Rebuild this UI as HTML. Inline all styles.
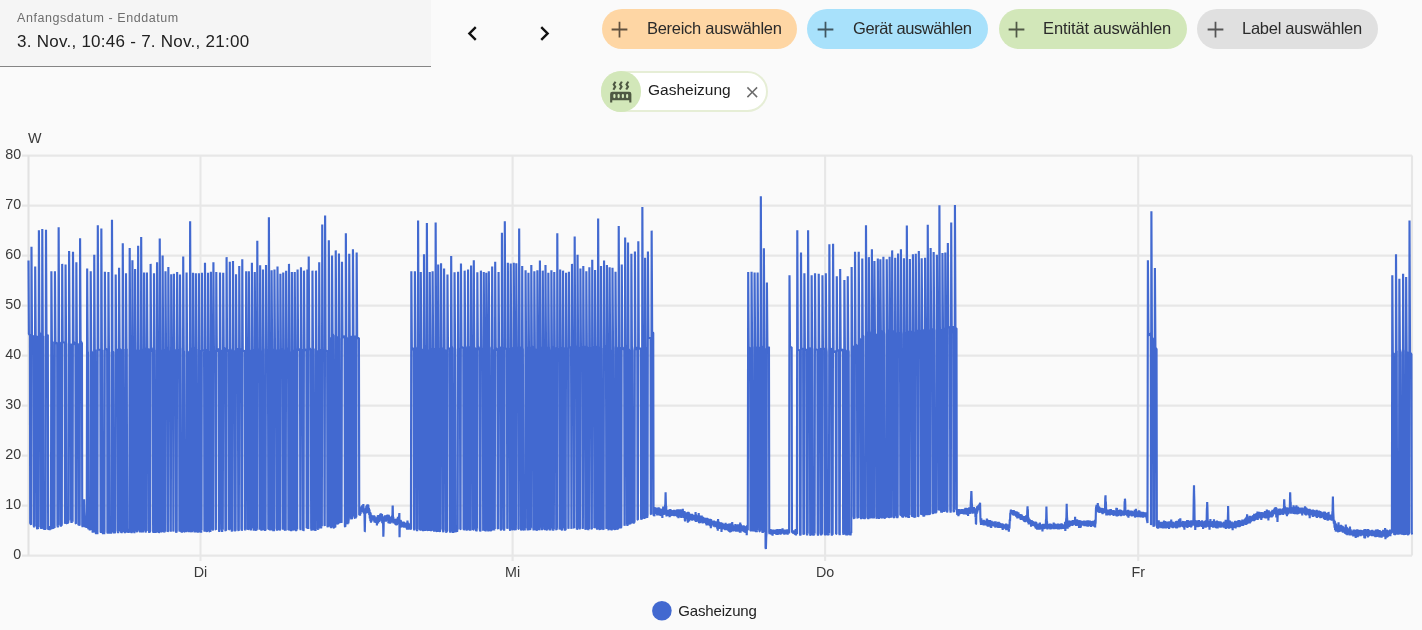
<!DOCTYPE html>
<html lang="de"><head><meta charset="utf-8"><title>Verlauf</title>
<style>
html,body{margin:0;padding:0}
body{width:1422px;height:630px;overflow:hidden;background:#fafafa;font-family:"Liberation Sans",sans-serif;color:#212121;position:relative}
.t{position:absolute;white-space:pre;line-height:1}
.ic{position:absolute;display:block}
.date{position:absolute;left:0;top:0;width:430.5px;height:66px;background:#f5f5f5;border-bottom:1px solid #858585}
.lbl{left:16.7px;top:12.3px;font-size:12.5px;letter-spacing:0.569px;color:#6e6e6e}
.val{left:16.7px;top:32.7px;font-size:17px;letter-spacing:0.262px;color:#212121}
.chip{position:absolute;top:9.4px;height:40px;border-radius:20px}
.chiptxt{top:20.1px;font-size:16.5px;color:#2a2a2a}
.sel{position:absolute;left:600.5px;top:70.6px;width:163px;height:37px;border:2px solid #e6eed6;border-radius:21px;background:#fff}
.selic{position:absolute;left:600.5px;top:71.4px;width:40.6px;height:40.6px;border-radius:50%;background:#d2e7b9}
.seltxt{left:647.7px;top:82.3px;font-size:15.5px;color:#212121}
#chart{position:absolute;left:0;top:0;will-change:transform}
.t{will-change:transform}
#chart text{font-family:"Liberation Sans",sans-serif;font-size:14.3px;fill:#3a3a3a}
</style></head>
<body>
<div class="date"></div>
<div class="t lbl">Anfangsdatum - Enddatum</div>
<div class="t val">3. Nov., 10:46 - 7. Nov., 21:00</div>
<svg class="ic" style="left:458.16px;top:18.80px;width:29px;height:29px" viewBox="0 0 24 24"><path fill="#111"  d="M15.41,16.58L10.83,12L15.41,7.41L14,6L8,12L14,18L15.41,16.58Z"/></svg>
<svg class="ic" style="left:529.74px;top:18.80px;width:29px;height:29px" viewBox="0 0 24 24"><path fill="#111"  d="M8.59,16.58L13.17,12L8.59,7.41L10,6L16,12L10,18L8.59,16.58Z"/></svg>
<div class="chip" style="left:601.6px;width:195.4px;background:#fed6a4"></div><svg class="ic" style="left:606.00px;top:15.90px;width:27px;height:27px" viewBox="0 0 24 24"><path fill="rgba(0,0,0,0.62)"  d="M19,12.78H12.78V19H11.22V12.78H5V11.22H11.22V5H12.78V11.22H19Z"/></svg><div class="t chiptxt" style="left:646.5px;letter-spacing:-0.284px">Bereich auswählen</div><div class="chip" style="left:807.3px;width:180.4px;background:#a8e1fb"></div><svg class="ic" style="left:812.20px;top:15.90px;width:27px;height:27px" viewBox="0 0 24 24"><path fill="rgba(0,0,0,0.62)"  d="M19,12.78H12.78V19H11.22V12.78H5V11.22H11.22V5H12.78V11.22H19Z"/></svg><div class="t chiptxt" style="left:852.7px;letter-spacing:-0.41px">Gerät auswählen</div><div class="chip" style="left:998.6px;width:188.4px;background:#d2e7b9"></div><svg class="ic" style="left:1003.20px;top:15.90px;width:27px;height:27px" viewBox="0 0 24 24"><path fill="rgba(0,0,0,0.62)"  d="M19,12.78H12.78V19H11.22V12.78H5V11.22H11.22V5H12.78V11.22H19Z"/></svg><div class="t chiptxt" style="left:1043.4px;letter-spacing:-0.127px">Entität auswählen</div><div class="chip" style="left:1197.3px;width:180.7px;background:#e0e0e0"></div><svg class="ic" style="left:1202.10px;top:15.90px;width:27px;height:27px" viewBox="0 0 24 24"><path fill="rgba(0,0,0,0.62)"  d="M19,12.78H12.78V19H11.22V12.78H5V11.22H11.22V5H12.78V11.22H19Z"/></svg><div class="t chiptxt" style="left:1242.3px;letter-spacing:-0.264px">Label auswählen</div>
<div class="sel"></div><div class="selic"></div>
<svg class="ic" style="left:608.05px;top:78.95px;width:25.5px;height:25.5px" viewBox="0 0 24 24"><path fill="#4e5842"  d="M7.95,3L6.53,5.19L7.95,7.4H7.94L5.95,10.5L4.22,9.6L5.64,7.39L4.22,5.19L6.22,2.09L7.95,3M13.95,2.89L12.53,5.1L13.95,7.3L13.94,7.31L11.95,10.4L10.22,9.5L11.64,7.3L10.22,5.1L12.22,2L13.95,2.89M20,2.89L18.56,5.1L20,7.3V7.31L18,10.4L16.25,9.5L17.67,7.3L16.25,5.1L18.25,2L20,2.89M2,22V14A2,2 0 0,1 4,12H20A2,2 0 0,1 22,14V22H20V20H4V22H2M6,14A1,1 0 0,0 5,15V17A1,1 0 0,0 6,18A1,1 0 0,0 7,17V15A1,1 0 0,0 6,14M10,14A1,1 0 0,0 9,15V17A1,1 0 0,0 10,18A1,1 0 0,0 11,17V15A1,1 0 0,0 10,14M14,14A1,1 0 0,0 13,15V17A1,1 0 0,0 14,18A1,1 0 0,0 15,17V15A1,1 0 0,0 14,14M18,14A1,1 0 0,0 17,15V17A1,1 0 0,0 18,18A1,1 0 0,0 19,17V15A1,1 0 0,0 18,14Z"/></svg>
<div class="t seltxt">Gasheizung</div>
<svg class="ic" style="left:742.85px;top:82.85px;width:18.5px;height:18.5px" viewBox="0 0 24 24"><path fill="#6b6b6b"  d="M19,6.41L17.59,5L12,10.59L6.41,5L5,6.41L10.59,12L5,17.59L6.41,19L12,13.41L17.59,19L19,17.59L13.41,12L19,6.41Z"/></svg>
<svg id="chart" width="1422" height="630" viewBox="0 0 1422 630">
<g stroke="#e7e7e7" stroke-width="2.1" fill="none"><line x1="22.0" x2="1412.0" y1="555.6" y2="555.6"/><line x1="22.0" x2="1412.0" y1="505.6" y2="505.6"/><line x1="22.0" x2="1412.0" y1="455.6" y2="455.6"/><line x1="22.0" x2="1412.0" y1="405.6" y2="405.6"/><line x1="22.0" x2="1412.0" y1="355.6" y2="355.6"/><line x1="22.0" x2="1412.0" y1="305.6" y2="305.6"/><line x1="22.0" x2="1412.0" y1="255.60000000000002" y2="255.60000000000002"/><line x1="22.0" x2="1412.0" y1="205.60000000000002" y2="205.60000000000002"/><line x1="22.0" x2="1412.0" y1="155.60000000000002" y2="155.60000000000002"/><line x1="200.5" x2="200.5" y1="155.6" y2="561.1"/><line x1="512.6" x2="512.6" y1="155.6" y2="561.1"/><line x1="825.1" x2="825.1" y1="155.6" y2="561.1"/><line x1="1138.2" x2="1138.2" y1="155.6" y2="561.1"/></g>
<g stroke="#e2e2e2" stroke-width="2.1" fill="none"><line x1="28.5" x2="28.5" y1="155.6" y2="555.6"/><line x1="1412.0" x2="1412.0" y1="155.6" y2="555.6" stroke="#e6e6e6"/></g>
<g><text x="21.1" y="558.6" text-anchor="end">0</text><text x="21.1" y="508.6" text-anchor="end">10</text><text x="21.1" y="458.6" text-anchor="end">20</text><text x="21.1" y="408.6" text-anchor="end">30</text><text x="21.1" y="358.6" text-anchor="end">40</text><text x="21.1" y="308.6" text-anchor="end">50</text><text x="21.1" y="258.6" text-anchor="end">60</text><text x="21.1" y="208.6" text-anchor="end">70</text><text x="21.1" y="158.6" text-anchor="end">80</text><text x="200.5" y="577" text-anchor="middle">Di</text><text x="512.6" y="577" text-anchor="middle">Mi</text><text x="825.1" y="577" text-anchor="middle">Do</text><text x="1138.2" y="577" text-anchor="middle">Fr</text><text x="28.1" y="143.1">W</text></g>
<path d="M28.50,260.50 28.90,334.00 29.90,335.50 30.20,523.00 31.08,524.69 31.48,246.67 31.98,335.41 33.47,336.37 33.77,525.42 34.12,527.26 34.42,524.91 34.79,526.42 35.19,266.41 35.69,336.17 36.77,336.58 37.07,528.48 37.42,529.07 37.72,525.53 38.02,528.75 38.32,526.34 38.50,527.35 38.90,230.30 39.40,331.82 40.59,335.48 40.89,526.65 41.24,528.94 41.54,525.84 41.88,528.51 42.28,228.95 42.78,336.02 43.26,336.01 43.56,527.29 43.91,529.35 44.21,526.43 44.51,529.98 44.81,526.74 45.11,529.92 45.41,527.19 45.59,529.42 45.99,229.79 46.49,335.92 47.84,334.72 48.14,528.68 48.49,529.77 48.79,526.57 49.09,529.79 49.39,526.78 49.69,530.07 49.99,526.13 50.29,529.23 50.59,526.13 50.89,529.43 50.99,526.71 51.39,271.14 51.89,341.85 52.61,342.08 52.91,528.26 53.26,528.71 53.56,525.16 53.86,528.22 54.16,525.35 54.54,527.92 54.94,271.14 55.44,342.16 57.15,343.71 57.45,525.24 57.80,527.44 58.10,524.11 58.25,525.60 58.65,227.26 59.15,342.60 60.19,342.64 60.49,524.23 60.84,526.70 61.14,523.13 61.44,525.90 61.79,523.96 62.19,263.88 62.69,342.26 64.67,342.71 64.97,523.77 65.17,523.16 65.57,264.39 66.07,342.16 66.28,344.15 66.58,523.29 66.93,523.38 67.23,521.01 67.53,523.91 67.83,520.64 68.13,522.97 68.43,520.03 68.71,520.27 69.11,250.89 69.61,345.10 70.81,343.80 71.11,519.69 71.46,522.89 71.76,518.91 72.06,522.47 72.36,519.73 72.60,521.87 73.00,251.73 73.50,341.08 75.40,345.40 75.70,523.42 75.97,523.63 76.37,262.19 76.87,344.33 78.05,343.64 78.35,524.33 78.70,524.95 79.00,522.55 79.30,525.66 79.68,524.36 80.08,238.23 80.58,340.73 81.93,343.24 82.23,525.09 82.58,527.06 82.88,523.53 83.18,526.53 83.48,517.73 83.78,512.64 84.08,499.38 84.38,511.71 84.68,517.41 84.98,527.05 85.28,524.61 85.58,527.72 85.88,525.04 86.18,527.39 86.48,525.24 86.77,527.78 87.17,268.61 87.67,350.79 87.95,352.99 88.25,528.39 88.60,528.96 88.90,526.56 89.20,529.24 89.50,526.30 89.80,530.35 90.10,527.59 90.32,529.79 90.72,271.14 91.22,350.72 92.08,352.47 92.38,529.25 92.73,532.68 93.03,529.05 93.33,532.42 93.63,529.90 93.86,532.40 94.26,254.77 94.76,350.71 95.44,349.61 95.74,533.09 96.09,533.52 96.39,530.29 96.69,534.12 96.99,531.26 97.29,534.10 97.41,533.57 97.81,225.23 98.31,349.76 100.34,349.44 100.64,531.73 100.95,532.76 101.35,228.44 101.85,350.53 102.34,349.78 102.64,532.01 102.99,534.04 103.29,530.63 103.59,533.30 103.89,529.99 104.19,534.22 104.49,531.06 104.89,271.65 105.39,348.30 107.12,349.87 107.42,532.48 107.77,533.41 108.04,532.08 108.44,271.98 108.94,352.16 109.16,351.69 109.46,532.27 109.81,533.50 110.11,529.42 110.41,533.16 110.71,529.41 111.01,533.80 111.31,529.35 111.58,531.84 111.98,219.66 112.48,351.17 113.17,351.99 113.47,532.16 113.82,533.17 114.12,529.24 114.42,533.40 114.72,529.73 115.02,533.13 115.30,530.52 115.70,274.51 116.20,351.82 117.54,349.10 117.84,530.44 118.19,533.05 118.49,529.50 118.67,531.86 119.07,267.76 119.57,348.26 120.46,349.51 120.76,529.82 121.11,532.49 121.41,529.49 121.71,533.17 122.01,529.08 122.38,531.81 122.78,243.29 123.28,351.54 123.58,349.06 123.88,530.21 124.23,532.16 124.53,528.94 124.83,533.20 125.13,529.15 125.43,532.40 125.59,530.84 125.99,273.33 126.49,351.49 126.78,348.77 127.08,530.58 127.43,532.61 127.73,528.78 128.03,532.49 128.33,528.86 128.63,532.98 128.93,529.68 129.30,531.56 129.70,248.02 130.20,350.65 130.41,350.27 130.71,531.54 131.06,532.45 131.36,529.77 131.66,533.06 132.01,531.29 132.41,260.17 132.91,349.80 133.76,348.98 134.06,531.11 134.41,533.06 134.71,530.90 135.11,268.95 135.61,349.41 136.52,352.49 136.82,531.05 137.17,532.12 137.47,529.89 137.74,530.14 138.14,245.82 138.64,351.18 139.46,349.64 139.76,530.74 140.11,532.28 140.41,529.22 140.78,530.73 141.18,236.88 141.68,348.09 141.83,350.27 142.13,531.49 142.48,532.21 142.78,528.89 143.08,532.49 143.38,529.15 143.65,530.20 144.05,272.49 144.55,347.43 145.23,350.04 145.53,530.83 145.88,532.48 146.18,528.97 146.52,530.95 146.92,272.49 147.42,349.30 148.58,348.70 148.88,530.32 149.23,532.91 149.53,528.64 149.83,532.14 150.23,530.66 150.63,263.88 151.13,347.22 152.82,351.88 153.12,531.74 153.47,532.34 153.61,531.86 154.01,273.33 154.51,350.70 154.66,349.73 154.96,530.07 155.31,532.90 155.61,529.58 155.91,532.67 156.21,528.95 156.51,531.95 156.65,529.81 157.05,262.19 157.55,347.04 157.71,348.57 158.01,531.02 158.36,532.37 158.66,528.52 158.96,532.80 159.35,531.60 159.75,238.57 160.25,349.70 161.06,351.00 161.36,531.50 161.71,532.14 162.01,528.83 162.22,531.93 162.62,255.44 163.12,349.06 163.79,352.26 164.09,531.15 164.44,532.50 164.74,529.08 165.09,531.80 165.49,271.14 165.99,346.88 167.32,348.42 167.62,531.69 167.95,531.28 168.35,266.92 168.85,351.58 170.17,351.20 170.47,531.61 170.82,530.87 171.22,274.18 171.72,347.20 173.02,351.22 173.32,531.54 173.52,529.62 173.92,273.67 174.42,348.88 175.76,351.87 176.06,531.76 176.41,532.51 176.73,530.83 177.13,271.98 177.63,351.34 179.10,349.66 179.40,529.88 179.60,531.67 180.00,274.51 180.50,347.39 180.65,348.72 180.95,530.74 181.30,532.04 181.60,528.92 181.90,532.77 182.20,529.28 182.50,531.77 182.81,530.54 183.21,256.46 183.71,350.46 184.00,351.50 184.30,531.72 184.65,531.85 184.95,529.20 185.25,531.97 185.55,528.64 185.85,531.95 186.18,530.58 186.58,272.49 187.08,350.73 187.91,352.05 188.21,531.20 188.56,531.59 188.86,528.65 189.16,532.26 189.46,529.33 189.73,530.62 190.13,221.35 190.63,346.91 190.78,348.81 191.08,530.73 191.43,532.17 191.73,528.51 192.03,532.04 192.33,528.91 192.60,530.07 193.00,272.83 193.50,346.65 193.98,348.73 194.28,530.02 194.63,532.33 194.93,529.03 195.23,531.96 195.46,531.64 195.86,273.33 196.36,350.89 196.51,349.07 196.81,531.13 197.16,531.72 197.46,529.41 197.76,532.57 198.06,528.42 198.36,532.35 198.50,531.05 198.90,273.33 199.40,350.30 199.88,350.17 200.18,531.36 200.53,532.04 200.83,529.15 201.13,532.67 201.43,528.25 201.54,530.33 201.94,272.83 202.44,350.29 204.08,350.78 204.38,530.75 204.58,531.61 204.98,262.70 205.48,349.63 206.30,350.03 206.60,531.07 206.95,531.94 207.25,529.30 207.62,530.87 208.02,272.83 208.52,351.11 209.11,351.90 209.41,531.45 209.76,531.62 210.06,528.94 210.36,531.95 210.49,530.14 210.89,271.65 211.39,347.83 212.30,349.22 212.60,529.22 213.02,530.42 213.42,262.19 213.92,349.98 215.39,351.51 215.69,529.52 215.89,529.71 216.29,271.98 216.79,351.41 218.63,348.56 218.93,529.68 219.28,531.90 219.60,529.18 220.00,272.49 220.50,350.96 221.50,350.14 221.80,529.08 222.15,531.91 222.45,527.87 222.81,529.67 223.21,272.83 223.71,347.22 225.09,349.41 225.39,530.50 225.74,530.85 226.04,528.64 226.18,530.14 226.58,257.13 227.08,351.19 228.67,349.98 228.97,529.41 229.39,529.39 229.79,261.86 230.29,348.33 231.22,352.22 231.52,528.92 231.87,531.58 232.17,528.01 232.47,531.30 232.60,529.22 233.00,261.01 233.50,351.43 234.81,351.25 235.11,530.63 235.46,530.88 235.63,528.96 236.03,274.18 236.53,350.76 237.94,348.38 238.24,529.49 238.59,530.94 238.84,529.50 239.24,266.08 239.74,348.39 241.12,349.84 241.42,529.04 241.77,530.48 241.88,530.25 242.28,259.32 242.78,350.57 244.53,351.12 244.83,529.13 245.18,530.31 245.48,528.21 245.76,529.84 246.16,271.14 246.66,348.51 247.73,349.66 248.03,529.74 248.46,529.15 248.86,271.14 249.36,349.56 250.17,351.91 250.47,528.17 250.82,530.39 251.12,526.91 251.50,528.02 251.90,262.70 252.40,351.82 253.11,349.13 253.41,527.90 253.76,530.62 254.06,527.72 254.37,529.76 254.77,271.98 255.27,347.21 255.42,350.11 255.72,529.91 256.07,530.66 256.37,526.81 256.67,530.17 256.90,528.20 257.30,240.76 257.80,349.41 259.23,349.64 259.53,529.67 259.73,528.01 260.13,265.23 260.63,349.55 260.78,352.46 261.08,529.02 261.43,530.56 261.73,527.62 262.03,530.18 262.33,527.57 262.60,529.46 263.00,269.45 263.50,347.80 263.65,349.50 263.95,528.15 264.30,530.15 264.60,526.84 264.90,530.89 265.20,526.87 265.50,530.36 265.63,529.32 266.03,264.89 266.53,350.06 268.00,350.17 268.30,529.35 268.50,529.18 268.90,217.13 269.40,350.67 269.55,352.14 269.85,528.16 270.20,530.36 270.50,526.83 270.80,530.31 271.10,527.67 271.20,528.97 271.60,270.30 272.10,351.12 272.65,348.74 272.95,528.04 273.30,531.01 273.60,527.21 273.90,531.14 274.07,527.90 274.47,269.45 274.97,349.34 276.26,352.39 276.56,528.42 276.91,530.56 277.11,528.37 277.51,266.58 278.01,348.89 278.39,352.42 278.69,527.93 279.04,530.16 279.34,527.41 279.64,530.43 279.98,529.51 280.38,273.67 280.88,348.44 282.35,351.60 282.65,528.61 282.85,529.50 283.25,272.49 283.75,349.37 284.33,351.99 284.63,529.85 284.98,530.26 285.28,526.87 285.58,530.62 285.72,529.70 286.12,270.80 286.62,347.65 288.09,350.88 288.39,529.90 288.59,529.77 288.99,263.88 289.49,351.75 289.97,352.34 290.27,529.65 290.62,530.32 290.92,527.29 291.22,531.11 291.46,528.38 291.86,271.98 292.36,350.17 292.98,350.63 293.28,529.31 293.63,530.42 293.93,527.92 294.33,529.56 294.73,271.98 295.23,347.41 295.38,350.74 295.68,528.68 296.03,531.08 296.33,527.73 296.63,530.34 296.93,527.69 297.19,529.25 297.59,269.45 298.09,350.05 300.00,349.38 300.30,528.07 300.57,530.20 300.97,267.26 301.47,352.14 302.74,349.22 303.04,529.07 303.39,530.73 303.61,530.25 304.01,270.63 304.51,350.37 306.36,349.52 306.66,528.11 306.98,527.82 307.38,269.45 307.88,351.11 308.03,352.23 308.33,528.94 308.33,528.54 308.73,256.46 309.23,347.66 310.86,350.27 311.16,528.34 311.51,530.57 311.81,527.31 312.05,530.15 312.45,270.63 312.95,348.48 313.56,349.21 313.86,528.64 314.21,530.38 314.51,527.84 314.81,530.31 315.11,527.20 315.41,530.87 315.59,529.97 315.99,270.63 316.49,352.07 317.49,350.59 317.79,528.87 318.14,529.55 318.44,526.32 318.80,528.81 319.20,262.19 319.70,350.94 320.49,349.11 320.79,526.30 321.14,528.44 321.44,524.55 321.84,526.30 322.24,224.39 322.74,351.23 324.21,350.15 324.51,525.07 324.71,525.97 325.11,215.44 325.61,350.00 327.14,351.31 327.44,525.93 327.79,527.28 328.09,523.37 328.42,526.39 328.82,240.25 329.32,338.33 329.96,337.32 330.26,525.57 330.61,527.40 330.91,524.23 331.21,528.23 331.51,524.75 331.63,527.24 332.03,255.44 332.53,333.65 333.37,335.72 333.67,527.55 334.02,528.25 334.32,524.73 334.62,527.74 334.92,523.89 335.22,527.40 335.34,526.04 335.74,250.38 336.24,337.38 337.03,336.34 337.33,522.69 337.68,524.50 337.98,521.52 338.28,523.98 338.55,520.87 338.95,253.42 339.45,337.79 339.60,338.76 339.90,521.52 340.25,522.88 340.55,518.35 340.85,522.07 341.15,517.95 341.45,522.78 341.58,521.78 341.98,261.86 342.48,337.57 344.60,336.01 344.90,526.33 345.25,527.02 345.46,524.72 345.86,233.16 346.36,336.63 347.08,338.32 347.38,523.95 347.73,523.43 348.03,520.27 348.33,523.53 348.63,519.80 348.84,519.04 349.24,253.76 349.74,337.46 350.67,335.71 350.97,517.41 351.32,519.42 351.62,516.72 351.92,519.26 352.22,516.10 352.55,516.25 352.95,249.20 353.45,337.53 354.40,335.41 354.70,517.91 355.05,518.07 355.35,514.43 355.65,518.30 355.95,515.18 356.27,517.14 356.67,252.57 357.17,338.19 358.93,337.97 359.23,515.16 359.70,512.19 360.05,515.61 360.33,507.50 360.61,513.92 360.96,507.27 361.27,511.85 361.55,506.41 361.87,510.82 362.15,505.35 362.24,507.97 362.42,510.92 362.66,505.41 362.99,512.21 363.34,504.06 363.66,513.24 364.01,508.81 364.26,513.91 364.43,512.19 364.52,515.52 364.77,531.60 364.82,531.56 365.18,511.93 365.27,512.19 365.53,513.62 365.82,507.86 366.09,512.69 366.38,505.87 366.46,508.82 366.68,511.52 367.03,504.89 367.29,513.19 367.63,504.34 367.96,509.72 368.14,506.29 368.30,504.88 368.63,511.13 368.94,508.01 369.22,515.04 369.50,509.60 369.78,518.42 370.12,511.96 370.37,520.86 370.63,512.82 370.68,518.95 370.96,522.59 371.23,514.90 371.48,521.68 371.72,515.62 372.03,520.04 372.31,515.73 372.66,519.25 373.01,515.43 373.21,517.26 373.37,520.29 373.64,515.30 373.89,520.81 374.14,515.24 374.44,522.37 374.77,516.39 375.06,521.91 375.33,517.62 375.62,522.89 375.74,520.63 375.93,517.99 376.25,522.23 376.58,517.77 376.93,525.46 377.25,516.67 377.50,523.46 377.84,515.34 378.12,523.54 378.27,518.95 378.42,515.07 378.71,521.87 379.04,515.54 379.30,521.84 379.57,515.16 379.84,519.82 380.10,514.36 380.44,519.37 380.75,513.29 380.80,516.41 381.03,520.56 381.32,513.80 381.68,521.13 381.98,514.11 382.25,523.15 382.59,515.76 382.90,521.24 383.00,518.95 383.26,530.56 383.33,536.67 383.52,531.93 383.81,518.42 383.84,518.95 384.15,521.07 384.49,516.82 384.84,521.38 385.02,518.95 385.09,515.33 385.36,521.59 385.62,515.40 385.88,521.69 386.23,515.64 386.54,519.90 386.90,515.13 387.18,519.27 387.53,514.54 387.55,517.26 387.82,520.66 388.09,515.12 388.42,523.31 388.78,514.81 389.03,523.48 389.34,516.09 389.66,523.53 389.92,517.16 390.08,520.63 390.21,523.59 390.46,517.99 390.73,522.12 391.00,517.77 391.31,522.69 391.63,516.86 391.89,522.05 392.13,515.46 392.28,518.95 392.41,517.40 392.62,506.29 392.73,505.64 393.00,519.97 393.12,519.79 393.27,516.87 393.46,520.63 393.54,523.52 393.87,518.82 394.18,523.07 394.43,518.86 394.68,522.59 394.97,518.93 395.27,524.54 395.59,518.79 395.84,525.03 396.10,519.16 396.42,525.37 396.71,518.55 396.84,522.32 396.99,524.99 397.26,518.54 397.62,524.03 397.90,516.73 398.20,524.09 398.49,518.12 398.78,523.43 399.03,520.63 399.12,515.82 399.37,513.04 399.48,532.44 399.54,537.17 399.76,525.69 400.03,527.22 400.04,523.16 400.35,519.80 400.62,527.67 400.86,520.22 401.05,524.01 401.21,526.38 401.50,521.75 401.84,526.33 402.13,522.15 402.47,527.17 402.77,521.70 403.03,526.92 403.27,521.50 403.57,527.46 403.59,524.85 403.89,521.81 404.24,527.62 404.49,522.53 404.81,527.29 405.09,523.33 405.39,527.47 405.65,523.83 405.92,527.07 406.23,522.94 406.58,528.55 406.83,522.62 406.96,525.70 407.13,529.62 407.46,520.42 407.82,529.37 408.08,522.60 408.34,529.80 408.69,523.40 409.05,529.32 409.35,523.74 409.49,526.54 410.95,529.43 411.35,271.14 411.85,349.72 413.62,348.35 413.92,528.40 414.27,530.21 414.49,529.15 414.89,271.14 415.39,346.62 416.50,350.49 416.80,529.09 417.15,531.11 417.45,527.70 417.70,529.77 418.10,220.51 418.60,348.98 419.69,347.61 419.99,529.86 420.40,529.86 420.80,271.98 421.30,349.24 421.93,348.89 422.23,529.85 422.58,530.41 422.88,527.76 423.18,531.22 423.48,527.09 423.61,530.00 424.01,254.26 424.51,345.66 424.66,349.43 424.96,527.79 425.31,530.99 425.61,527.08 425.91,530.54 426.21,527.75 426.48,528.66 426.88,223.04 427.38,349.93 427.60,349.41 427.90,530.17 428.25,530.50 428.55,527.01 428.85,530.87 429.15,527.37 429.35,528.67 429.75,271.98 430.25,348.14 430.40,348.54 430.70,529.32 431.05,531.08 431.35,527.07 431.65,530.78 431.95,527.57 432.22,528.77 432.62,271.14 433.12,348.35 433.47,348.06 433.77,528.59 434.12,531.59 434.42,527.79 434.72,531.77 435.02,527.90 435.25,529.49 435.65,222.53 436.15,348.18 436.41,348.43 436.71,530.99 437.06,531.58 437.36,528.13 437.66,532.04 437.79,529.90 438.19,264.39 438.69,349.19 439.33,349.12 439.63,530.12 439.98,532.01 440.28,528.66 440.65,529.44 441.05,263.21 441.55,349.52 442.72,347.82 443.02,530.83 443.37,532.17 443.69,529.38 444.09,268.61 444.59,350.24 445.71,350.28 446.01,529.89 446.36,532.78 446.66,528.96 446.96,531.74 447.07,530.44 447.47,274.51 447.97,347.72 449.59,348.87 449.89,530.31 450.24,532.71 450.54,529.02 450.78,530.91 451.18,255.95 451.68,345.67 452.17,348.17 452.47,530.97 452.82,532.67 453.12,529.57 453.42,532.95 453.72,529.28 454.02,531.80 454.16,531.31 454.56,272.32 455.06,348.41 455.25,349.23 455.55,530.78 455.90,532.25 456.20,528.81 456.50,531.45 456.80,528.72 457.10,531.80 457.40,527.57 457.70,529.39 458.10,271.65 458.60,349.30 459.96,349.33 460.26,529.34 460.57,529.19 460.97,263.54 461.47,346.51 463.27,348.35 463.57,528.49 463.92,530.14 464.28,529.18 464.68,270.63 465.18,345.56 465.94,348.33 466.24,527.79 466.59,530.64 466.89,527.05 467.19,530.03 467.49,526.99 467.66,529.65 468.06,269.45 468.56,346.21 469.15,347.47 469.45,529.38 469.80,530.30 470.10,527.53 470.40,530.40 470.70,529.70 471.10,265.57 471.60,350.36 472.72,349.75 473.02,529.67 473.40,529.59 473.80,260.17 474.30,347.97 475.28,348.32 475.58,528.80 475.93,530.69 476.23,527.09 476.53,531.34 476.83,528.22 476.94,528.51 477.34,272.32 477.84,345.83 479.50,350.30 479.80,528.65 480.15,531.29 480.49,530.69 480.89,270.63 481.39,350.29 482.86,348.23 483.16,530.04 483.36,530.39 483.76,271.98 484.26,349.63 484.41,347.74 484.71,529.75 485.06,530.55 485.36,527.22 485.66,531.33 485.89,530.15 486.29,272.83 486.79,345.88 487.61,347.71 487.91,528.86 488.26,531.38 488.42,528.53 488.82,271.14 489.32,346.14 489.76,348.06 490.06,529.14 490.41,531.13 490.71,527.65 491.01,531.29 491.31,527.48 491.61,530.50 491.75,529.82 492.15,266.58 492.65,349.63 493.51,350.59 493.81,529.19 494.16,530.28 494.46,527.47 494.79,529.07 495.19,261.86 495.69,347.62 497.42,350.79 497.72,528.15 498.17,529.05 498.57,271.98 499.07,347.50 500.42,347.45 500.72,529.22 501.07,530.42 501.37,526.69 501.54,529.93 501.94,232.83 502.44,347.12 503.48,350.69 503.78,528.55 504.13,530.66 504.41,527.71 504.81,221.35 505.31,348.65 506.95,348.76 507.25,528.76 507.45,527.71 507.85,262.70 508.35,350.12 509.55,348.29 509.85,529.05 510.20,530.71 510.32,528.96 510.72,263.54 511.22,347.91 512.13,347.70 512.43,529.30 512.78,530.11 513.08,527.03 513.36,528.40 513.76,262.70 514.26,346.15 514.48,347.47 514.78,528.75 515.13,530.13 515.43,527.16 515.73,530.13 515.89,527.31 516.29,263.21 516.79,347.00 518.13,349.45 518.43,528.95 518.76,528.99 519.16,228.44 519.66,347.34 520.78,347.63 521.08,529.64 521.43,530.39 521.79,527.52 522.19,266.08 522.69,347.53 522.88,349.56 523.18,529.71 523.53,529.72 523.83,526.33 524.13,530.24 524.43,526.65 524.73,530.46 525.03,526.34 525.17,528.19 525.57,270.30 526.07,347.17 527.10,347.97 527.40,528.23 527.75,530.32 528.04,529.19 528.44,272.83 528.94,346.91 529.64,347.70 529.94,529.46 530.29,529.69 530.59,527.41 530.91,527.77 531.31,264.89 531.81,345.67 532.97,349.27 533.27,527.65 533.62,530.44 533.95,528.30 534.35,271.14 534.85,348.95 535.34,349.05 535.64,528.90 535.99,529.99 536.29,526.64 536.59,530.61 536.98,529.56 537.38,270.30 537.88,347.39 538.03,350.25 538.33,527.67 538.68,530.16 538.98,526.29 539.28,530.00 539.52,529.65 539.92,260.51 540.42,348.29 541.37,346.97 541.67,527.23 542.02,530.03 542.38,528.65 542.78,270.63 543.28,349.71 544.26,349.87 544.56,529.30 544.91,529.44 545.09,529.66 545.49,264.89 545.99,346.79 546.14,346.85 546.44,529.45 546.79,530.51 547.09,527.26 547.39,529.44 547.69,526.52 547.95,529.06 548.35,272.83 548.85,346.54 549.13,350.51 549.43,527.73 549.78,530.30 550.08,526.34 550.38,530.32 550.68,527.31 550.99,528.09 551.39,270.30 551.89,346.65 552.60,346.97 552.90,529.02 553.25,530.61 553.55,526.51 553.86,529.62 554.26,271.98 554.76,350.12 555.92,347.42 556.22,529.45 556.57,529.78 556.90,527.82 557.30,233.16 557.80,349.36 559.27,348.74 559.57,529.49 559.77,528.72 560.17,269.45 560.67,347.31 561.34,347.97 561.64,529.27 561.99,530.38 562.29,526.93 562.64,528.02 563.04,270.63 563.54,347.03 564.25,349.13 564.55,527.66 564.90,530.56 565.20,526.39 565.50,530.08 565.68,528.89 566.08,272.83 566.58,349.86 568.05,347.85 568.35,527.55 568.55,528.79 568.95,271.65 569.45,347.13 571.08,347.34 571.38,528.11 571.58,528.84 571.98,263.88 572.48,348.01 573.78,349.15 574.08,527.89 574.28,528.10 574.68,236.54 575.18,345.67 576.55,349.52 576.85,529.59 577.15,528.94 577.55,254.77 578.05,348.03 579.00,347.38 579.30,527.37 579.65,529.39 580.02,527.50 580.42,268.61 580.92,346.08 582.39,348.35 582.69,528.90 582.89,527.45 583.29,266.08 583.79,346.10 585.01,346.98 585.31,528.71 585.66,529.43 585.93,528.19 586.33,271.14 586.83,346.14 587.13,347.62 587.43,527.24 587.78,529.61 588.08,526.56 588.38,530.16 588.68,526.73 588.97,529.05 589.37,267.26 589.87,348.84 591.13,347.45 591.43,528.41 591.84,529.34 592.24,259.66 592.74,346.08 594.04,349.68 594.34,528.10 594.71,527.31 595.11,269.96 595.61,345.68 596.52,348.70 596.82,528.07 597.17,529.53 597.47,527.05 597.74,529.09 598.14,218.48 598.64,346.59 599.17,348.34 599.47,528.53 599.82,529.93 600.12,527.10 600.42,529.34 600.61,527.04 601.01,266.08 601.51,348.22 601.66,348.06 601.96,527.56 602.31,529.48 602.61,526.53 602.91,529.71 603.21,526.63 603.51,529.30 603.65,529.44 604.05,260.51 604.55,345.14 606.02,348.64 606.32,528.10 606.52,528.87 606.92,264.89 607.42,346.19 607.98,346.80 608.28,527.60 608.63,530.29 608.93,526.06 609.22,528.88 609.62,267.26 610.12,349.89 610.34,349.85 610.64,529.30 610.99,529.32 611.29,526.56 611.59,530.35 611.89,526.68 612.09,527.14 612.49,267.76 612.99,345.52 613.14,348.18 613.44,528.51 613.79,529.40 614.09,526.05 614.39,529.57 614.69,526.55 614.99,530.05 615.13,526.92 615.53,271.65 616.03,346.71 616.78,348.77 617.08,528.43 617.43,529.61 617.73,525.06 618.03,528.47 618.33,528.10 618.73,226.08 619.23,348.78 619.82,346.94 620.12,525.50 620.47,528.38 620.77,525.17 621.07,528.11 621.37,525.36 621.77,264.39 622.27,346.82 624.23,350.33 624.53,525.85 624.75,524.06 625.15,237.38 625.65,345.35 626.77,349.35 627.07,523.85 627.42,525.85 627.62,524.68 628.02,242.45 628.52,348.42 629.09,350.04 629.39,523.31 629.74,524.30 630.04,521.68 630.34,524.04 630.64,520.90 630.99,523.66 631.39,253.76 631.89,346.44 632.44,350.38 632.74,520.90 633.09,523.04 633.39,519.48 633.69,523.61 633.99,519.30 634.29,522.46 634.54,521.16 634.94,251.39 635.44,349.54 637.29,347.15 637.59,519.70 637.91,519.79 638.31,241.27 638.81,348.32 640.80,348.60 641.10,518.33 641.45,519.65 641.75,517.09 641.96,519.25 642.36,207.00 642.86,346.44 643.66,349.93 643.96,516.69 644.31,518.77 644.66,517.39 645.06,257.64 645.56,348.96 645.91,346.88 646.21,517.22 646.56,517.83 646.86,514.90 647.16,517.80 647.53,515.12 647.93,251.39 648.43,337.33 650.55,338.18 650.85,514.14 651.25,514.36 651.65,230.63 652.15,332.44 653.23,332.86 653.53,514.76 653.88,515.26 654.18,512.61 654.48,516.35 653.84,510.51 654.20,513.36 654.55,507.07 654.80,513.81 655.08,507.54 655.42,514.12 655.67,507.89 656.00,513.92 656.27,507.62 656.63,512.96 656.87,508.19 657.21,515.46 657.49,507.85 657.75,514.44 657.99,507.69 658.33,514.77 658.63,507.19 658.89,515.40 659.19,507.84 659.53,515.20 659.80,508.66 660.11,514.31 660.37,508.82 660.63,516.08 660.96,509.36 661.29,514.11 661.55,509.11 661.80,515.22 662.05,508.70 662.36,517.86 662.66,508.48 662.93,514.95 663.20,506.48 663.51,514.85 663.84,509.48 664.18,513.83 664.49,509.69 664.75,514.80 664.81,512.19 665.00,506.10 665.33,504.21 665.61,492.18 665.65,494.98 665.94,506.49 666.19,505.95 666.33,513.04 666.52,516.34 666.80,509.78 667.15,515.81 667.49,510.28 667.79,515.28 668.03,510.02 668.38,515.56 668.68,510.22 669.02,515.95 669.29,509.52 669.56,517.13 669.90,509.36 670.18,516.43 670.44,509.12 670.72,515.86 671.04,510.04 671.28,516.00 671.58,510.34 671.87,514.87 672.17,511.22 672.43,515.18 672.75,510.22 673.09,515.80 673.44,510.13 673.71,515.86 674.04,509.92 674.33,516.15 674.66,510.38 674.90,515.11 675.25,511.37 675.60,515.61 675.90,510.43 676.20,515.91 676.51,509.81 676.81,516.17 677.05,509.52 677.41,517.20 677.68,509.30 677.94,516.98 678.19,509.26 678.46,518.28 678.80,510.05 679.04,515.64 679.29,510.14 679.62,516.25 679.88,509.85 680.12,515.90 680.44,509.25 680.74,517.56 681.05,509.71 681.37,517.99 681.62,509.73 681.97,516.10 682.29,510.52 682.53,513.04 682.54,515.03 682.79,508.76 683.09,515.74 683.39,512.02 683.67,518.00 683.92,511.77 684.21,517.08 684.47,511.00 684.73,514.73 684.78,519.33 685.06,521.48 685.12,517.30 685.38,520.60 685.57,515.57 685.69,512.34 686.02,518.66 686.28,513.08 686.62,518.40 686.97,513.71 687.26,518.92 687.55,512.19 687.89,522.64 688.19,511.88 688.48,520.37 688.83,512.36 689.16,521.42 689.44,513.45 689.71,519.22 689.99,513.82 690.29,518.93 690.64,514.22 690.98,520.16 691.33,514.08 691.67,520.01 692.01,513.90 692.26,520.59 692.56,514.53 692.91,520.17 693.26,514.88 693.53,519.13 693.83,515.83 694.14,519.15 694.42,515.88 694.73,520.28 694.98,515.19 695.27,521.01 695.57,511.97 695.81,521.92 696.07,514.34 696.42,521.64 696.76,515.24 697.11,520.83 697.43,516.36 697.76,521.37 698.11,515.25 698.46,521.72 698.70,513.03 699.02,523.06 699.29,515.28 699.41,518.95 699.61,523.33 699.88,515.70 700.19,522.97 700.54,516.57 700.85,522.31 701.12,517.34 701.43,521.68 701.72,515.54 702.07,522.50 702.35,516.89 702.62,523.52 702.94,516.88 703.20,523.22 703.51,517.61 703.86,522.87 704.16,517.49 704.44,522.35 704.73,518.95 705.04,522.31 705.29,518.30 705.55,523.31 705.80,518.11 706.08,524.19 706.37,517.79 706.64,525.42 706.91,517.91 707.16,525.25 707.47,518.12 707.81,524.55 708.12,518.85 708.43,525.12 708.75,518.80 709.01,524.99 709.34,519.67 709.63,525.70 709.94,518.76 710.25,526.23 710.55,519.05 710.83,528.12 711.09,519.22 711.36,525.43 711.66,520.50 711.95,525.23 712.26,521.06 712.50,524.80 712.78,520.84 713.13,525.38 713.40,521.15 713.70,526.63 714.00,520.54 714.28,526.81 714.63,521.16 714.91,527.13 715.24,521.53 715.50,526.64 715.75,521.90 716.09,527.01 716.39,521.51 716.63,526.87 716.92,521.73 717.21,528.74 717.54,520.77 717.79,530.75 718.06,518.96 718.42,528.71 718.74,521.55 719.00,528.99 719.28,522.17 719.57,528.67 719.89,523.45 720.00,525.70 720.20,528.21 720.54,522.71 720.88,528.64 721.18,522.25 721.51,531.95 721.84,523.07 722.17,529.54 722.47,522.93 722.80,528.28 723.13,524.31 723.48,528.31 723.73,524.95 724.08,529.00 724.32,523.92 724.65,529.69 724.96,523.73 725.26,530.17 725.62,522.92 725.93,529.58 726.22,524.14 726.55,530.10 726.89,524.87 727.21,529.94 727.49,524.48 727.79,529.74 728.08,523.97 728.41,531.07 728.68,523.55 728.97,531.80 729.28,523.95 729.56,531.01 729.84,524.06 730.18,532.52 730.52,523.33 730.82,531.86 731.11,525.25 731.37,529.96 731.65,525.47 731.91,530.78 732.22,522.15 732.53,531.56 732.78,524.48 733.13,531.36 733.41,525.56 733.75,531.09 733.76,528.23 734.09,525.91 734.44,530.54 734.71,526.25 735.00,530.37 735.35,524.09 735.59,531.13 735.84,525.08 736.14,531.71 736.44,524.79 736.79,531.61 737.13,525.00 737.43,531.73 737.79,524.33 738.09,531.01 738.39,525.75 738.72,531.24 739.00,525.33 739.29,531.65 739.60,524.37 739.88,532.75 740.23,522.43 740.55,532.65 740.86,524.38 741.11,531.29 741.39,526.53 741.68,530.59 741.99,526.30 742.30,530.53 742.64,525.95 743.00,531.05 743.30,525.42 743.59,531.64 743.91,525.57 744.27,532.14 744.55,526.33 744.85,531.78 745.19,526.72 745.45,532.85 745.73,527.22 746.08,531.32 746.42,526.01 746.73,535.20 746.98,525.35 747.26,529.07 747.79,530.21 748.19,271.98 748.69,346.93 750.15,349.18 750.45,530.36 750.80,530.60 751.16,530.39 751.56,271.65 752.06,346.16 752.21,347.24 752.51,529.78 752.86,531.32 753.16,527.94 753.46,531.41 753.76,527.93 754.06,531.53 754.20,530.27 754.60,272.49 755.10,346.29 755.51,347.65 755.81,529.31 756.16,531.99 756.46,528.67 756.76,532.06 757.06,527.91 757.24,530.31 757.64,272.49 758.14,348.61 759.13,346.74 759.43,531.31 759.78,531.45 760.08,528.88 760.44,530.18 760.84,196.37 761.34,346.13 761.95,346.54 762.25,531.39 762.60,532.71 762.90,529.69 763.20,531.87 763.48,531.83 763.88,248.35 764.38,349.70 765.25,348.28 765.55,547.80 765.90,549.06 766.20,537.68 766.52,532.46 766.92,282.62 767.42,349.11 768.96,346.81 769.26,532.85 769.61,533.07 769.20,531.60 769.53,534.13 769.80,529.02 770.16,533.99 770.46,529.08 770.77,533.60 771.06,529.66 771.39,534.77 771.69,529.87 771.97,532.94 772.31,530.06 772.57,535.64 772.90,529.60 773.14,533.77 773.46,529.61 773.75,533.79 774.09,529.91 774.34,533.67 774.65,530.15 774.94,533.69 775.29,530.40 775.64,533.86 775.96,529.92 776.22,534.75 776.49,529.21 776.76,534.65 777.06,529.30 777.32,534.85 777.59,529.00 777.92,534.79 778.24,529.37 778.51,533.83 778.87,529.50 779.14,533.78 779.45,530.06 779.71,533.77 780.05,529.05 780.39,534.68 780.67,529.40 781.00,534.26 781.33,529.31 781.61,533.72 781.89,530.23 782.19,533.61 782.53,528.28 782.79,533.69 783.11,530.34 783.43,533.57 783.72,529.75 784.03,534.47 784.38,529.54 784.64,534.64 784.99,529.56 785.27,534.02 785.60,530.25 785.95,533.86 786.21,530.27 786.55,533.72 786.91,529.62 787.19,534.49 787.43,529.24 787.68,534.66 787.76,532.11 789.10,533.23 789.50,275.36 790.00,347.18 791.65,347.30 791.95,532.34 792.83,532.11 793.07,533.50 793.36,530.33 793.70,533.65 794.04,530.61 794.29,533.80 794.55,530.65 794.82,534.48 795.07,530.28 795.35,534.82 795.69,528.94 795.99,535.53 796.20,532.78 796.90,533.94 797.30,230.13 797.80,349.34 799.64,350.68 799.94,533.16 800.29,535.57 800.61,534.25 801.01,252.57 801.51,348.58 803.11,348.72 803.41,533.82 803.76,534.55 803.99,533.64 804.39,273.33 804.89,348.99 806.50,350.14 806.80,533.73 807.15,535.31 807.45,531.49 807.70,533.87 808.10,230.13 808.60,349.04 809.87,347.77 810.17,534.27 810.52,535.71 810.82,531.61 811.12,534.97 811.25,533.09 811.65,275.36 812.15,349.45 812.37,348.58 812.67,533.80 813.02,535.16 813.32,531.88 813.62,535.63 813.92,531.55 814.22,534.53 814.52,531.76 814.62,533.59 815.02,273.33 815.52,348.92 817.37,350.07 817.67,533.57 818.02,535.61 818.33,533.65 818.73,273.67 819.23,348.92 820.46,348.58 820.76,533.07 821.11,535.43 821.41,532.00 821.71,534.55 822.05,533.05 822.45,275.36 822.95,348.75 824.50,348.94 824.80,534.45 825.15,534.78 825.42,534.56 825.82,273.33 826.32,347.56 826.69,351.79 826.99,532.87 827.34,535.21 827.64,532.43 827.94,535.35 828.24,531.61 828.54,535.10 828.84,532.43 828.97,533.02 829.37,244.14 829.87,349.69 831.23,348.29 831.53,532.71 831.88,535.59 832.18,532.32 832.48,534.92 832.68,533.45 833.08,243.63 833.58,351.90 835.72,351.33 836.02,534.09 836.39,533.97 836.79,276.20 837.29,350.79 839.01,350.35 839.31,533.47 839.66,535.03 839.77,534.62 840.17,268.95 840.67,350.68 842.83,349.49 843.13,532.61 843.48,534.82 843.78,532.25 843.99,534.62 844.39,280.08 844.89,349.68 845.69,351.00 845.99,533.53 846.34,535.23 846.64,532.04 846.94,535.50 847.24,532.25 847.36,532.45 847.76,276.20 848.26,349.71 848.70,351.73 849.00,533.42 849.35,535.01 849.65,531.79 849.95,534.90 850.25,532.16 850.55,535.50 850.85,532.14 851.25,532.97 851.65,266.92 852.15,345.13 853.36,347.82 853.66,516.38 854.01,519.01 854.31,515.35 854.62,518.53 855.02,251.73 855.52,343.86 856.99,346.34 857.29,516.45 857.64,518.44 857.94,515.59 858.33,518.11 858.73,251.73 859.23,338.00 860.47,339.91 860.77,517.26 861.12,519.08 861.42,515.39 861.72,518.59 861.88,517.93 862.28,258.48 862.78,335.16 863.31,336.18 863.61,517.90 863.96,518.28 864.26,516.03 864.56,519.12 864.86,514.94 865.16,518.64 865.46,515.29 865.59,517.70 865.99,225.23 866.49,331.40 867.63,335.81 867.93,518.15 868.28,518.90 868.46,518.15 868.86,257.13 869.36,330.76 869.84,334.51 870.14,516.77 870.49,518.36 870.79,515.25 871.09,518.13 871.39,514.79 871.50,517.36 871.90,249.20 872.40,330.63 872.55,332.13 872.85,515.69 873.20,518.37 873.50,515.83 873.80,518.33 874.03,516.49 874.43,261.01 874.93,333.63 876.06,334.87 876.36,516.88 876.71,518.68 877.01,515.23 877.31,518.60 877.41,517.70 877.81,258.48 878.31,330.49 878.46,331.44 878.76,515.47 879.11,518.87 879.41,515.03 879.71,518.05 879.94,517.04 880.34,259.32 880.84,330.79 881.70,331.32 882.00,517.63 882.35,518.21 882.65,514.51 882.98,516.33 883.38,256.79 883.88,331.74 884.13,334.38 884.43,517.12 884.78,518.65 885.08,514.46 885.38,517.80 885.68,514.35 885.98,517.53 886.35,516.22 886.75,259.32 887.25,329.49 887.74,331.05 888.04,516.04 888.39,517.48 888.69,515.00 888.99,517.96 889.22,517.02 889.62,256.79 890.12,330.51 890.27,331.57 890.57,516.86 890.92,517.43 891.22,514.64 891.52,517.45 891.75,516.18 892.15,250.38 892.65,330.20 893.70,332.79 894.00,517.42 894.35,517.88 894.65,515.11 894.79,515.85 895.19,257.64 895.69,333.37 896.62,333.12 896.92,516.48 897.27,517.98 897.66,516.97 898.06,253.42 898.56,333.09 900.03,333.11 900.33,515.21 900.53,515.11 900.93,249.20 901.43,331.44 901.63,333.96 901.93,515.07 902.28,517.15 902.58,514.37 902.88,517.65 903.18,514.83 903.57,516.03 903.97,258.14 904.47,332.91 905.32,332.21 905.62,516.24 905.97,517.14 906.27,514.38 906.44,516.61 906.84,225.57 907.34,333.00 907.71,330.65 908.01,515.83 908.36,517.93 908.66,514.79 908.96,517.98 909.26,514.18 909.47,515.05 909.87,258.99 910.37,330.68 911.60,333.11 911.90,515.09 912.25,516.90 912.51,516.27 912.91,254.26 913.41,333.27 913.99,331.86 914.29,516.17 914.64,517.74 914.94,514.52 915.24,517.34 915.38,516.26 915.78,253.76 916.28,330.35 917.69,330.99 917.99,516.63 918.42,516.14 918.82,250.89 919.32,330.23 920.79,333.56 921.09,514.74 921.29,514.38 921.69,258.14 922.19,329.05 922.93,330.38 923.23,514.63 923.58,516.56 923.88,513.33 924.18,516.44 924.48,512.68 924.66,514.29 925.06,257.64 925.56,332.57 925.78,330.58 926.08,513.40 926.43,514.92 926.73,512.23 927.03,514.76 927.36,514.17 927.76,224.73 928.26,331.82 928.73,329.52 929.03,511.91 929.38,515.02 929.68,511.36 929.98,514.51 930.23,512.03 930.63,248.02 931.13,328.28 932.48,330.78 932.78,513.01 933.13,513.92 933.27,511.14 933.67,252.07 934.17,328.78 934.35,330.35 934.65,512.19 935.00,512.89 935.30,509.41 935.60,513.39 935.90,509.54 936.20,512.57 936.48,510.42 936.88,254.77 937.38,327.92 938.51,330.13 938.81,509.99 939.01,509.89 939.41,205.32 939.91,329.57 940.66,329.72 940.96,509.79 941.31,512.59 941.61,509.13 941.91,512.70 942.05,510.42 942.45,253.08 942.95,327.05 943.10,328.41 943.40,509.78 943.75,511.82 944.05,508.45 944.35,511.79 944.65,509.25 944.92,510.61 945.32,252.57 945.82,329.75 946.42,327.80 946.72,510.04 947.07,512.39 947.45,510.77 947.85,242.95 948.35,326.27 949.94,327.96 950.24,509.40 950.59,512.53 950.82,510.73 951.22,222.53 951.72,328.76 953.22,326.35 953.52,510.90 953.87,512.24 954.17,508.45 954.54,509.77 954.94,204.98 955.44,328.08 956.50,328.54 956.80,511.47 957.15,512.53 957.45,509.01 957.75,512.31 957.00,512.19 957.30,514.89 957.58,509.45 957.85,515.28 958.13,509.00 958.47,516.31 958.78,509.01 959.06,514.70 959.31,509.71 959.58,514.11 959.91,509.45 960.20,513.38 960.52,509.72 960.85,513.65 961.11,509.52 961.43,514.04 961.68,508.95 962.01,513.86 962.28,509.15 962.55,513.97 962.90,509.79 963.19,513.17 963.45,510.20 963.76,511.35 963.80,514.56 964.11,509.34 964.46,513.10 964.75,508.75 965.05,513.58 965.40,507.79 965.70,514.45 966.06,507.77 966.33,513.56 966.67,508.12 966.93,514.59 967.23,509.03 967.47,513.30 967.73,508.20 968.08,515.86 968.38,508.25 968.71,513.76 968.98,507.55 969.27,513.94 969.52,507.25 969.83,513.88 970.17,508.31 970.47,512.50 970.51,510.51 970.76,503.02 971.11,497.98 971.35,491.10 971.45,492.16 971.77,502.76 972.02,505.36 972.19,511.35 972.34,513.73 972.63,508.99 972.99,513.44 973.27,508.78 973.59,513.38 973.91,507.17 974.19,512.44 974.49,508.97 974.81,512.73 975.16,508.28 975.23,510.51 975.46,517.12 975.75,516.03 975.91,524.01 976.10,523.93 976.35,512.23 976.58,510.51 976.69,513.87 977.01,506.60 977.32,512.53 977.61,506.05 977.94,510.45 978.10,507.97 978.29,505.44 978.62,509.85 978.95,504.92 979.19,509.37 979.47,503.93 979.73,508.52 980.08,502.66 980.13,505.44 980.43,518.62 980.63,522.32 980.69,519.30 981.00,524.84 981.31,518.24 981.55,524.42 981.84,520.49 982.17,524.29 982.32,522.32 982.49,520.98 982.76,524.56 983.09,520.47 983.37,525.17 983.67,519.77 983.96,525.45 984.32,520.25 984.64,525.05 984.97,520.81 985.29,524.88 985.58,521.22 985.94,525.31 986.26,520.95 986.58,525.41 986.86,518.43 987.12,525.80 987.43,519.56 987.76,526.82 988.10,519.96 988.38,526.73 988.64,520.40 988.94,525.64 989.29,521.25 989.54,525.87 989.87,520.13 990.13,525.93 990.41,520.65 990.66,527.55 990.93,521.32 991.22,527.99 991.58,520.76 991.93,526.12 992.19,521.67 992.47,525.95 992.82,521.61 993.09,525.40 993.37,522.49 993.66,525.69 993.91,522.16 994.18,526.47 994.47,521.48 994.76,526.75 995.11,521.35 995.38,527.64 995.65,521.42 996.00,526.88 996.29,522.50 996.63,527.19 996.95,522.84 997.28,527.21 997.51,524.85 997.56,522.75 997.82,527.65 998.15,521.92 998.45,527.99 998.75,521.86 999.07,527.93 999.40,522.60 999.68,528.06 999.96,522.97 1000.31,527.16 1000.61,523.57 1000.89,527.05 1001.20,523.52 1001.47,527.95 1001.81,523.19 1002.05,528.16 1002.39,523.66 1002.70,529.89 1002.98,523.84 1003.33,528.66 1003.61,524.42 1003.88,528.04 1004.12,524.68 1004.43,528.07 1004.76,524.87 1005.08,528.55 1005.37,524.25 1005.71,529.22 1005.96,523.63 1006.24,530.12 1006.56,523.70 1006.91,530.18 1007.23,524.61 1007.55,529.53 1007.88,525.25 1008.17,529.69 1008.52,524.93 1008.85,531.70 1009.13,524.36 1009.32,527.38 1009.42,528.81 1009.76,519.56 1010.04,521.50 1010.30,512.70 1010.65,513.87 1010.68,511.35 1010.95,509.59 1011.25,513.78 1011.57,510.39 1011.92,513.45 1012.18,510.68 1012.46,514.45 1012.71,510.39 1013.00,515.11 1013.30,509.99 1013.64,515.48 1013.96,510.22 1014.27,515.68 1014.39,513.04 1014.56,511.12 1014.86,515.04 1015.14,511.68 1015.48,515.38 1015.81,511.36 1016.15,516.76 1016.41,511.85 1016.73,517.25 1017.06,511.45 1017.36,518.38 1017.71,512.22 1018.06,518.19 1018.39,512.39 1018.73,518.16 1019.04,513.86 1019.39,517.92 1019.65,514.06 1019.97,518.41 1020.29,513.98 1020.61,519.77 1020.88,514.23 1021.13,520.02 1021.44,514.35 1021.78,519.92 1022.05,515.36 1022.32,519.73 1022.59,516.18 1022.84,519.79 1023.16,516.23 1023.52,520.58 1023.85,515.94 1024.13,521.40 1024.46,516.54 1024.51,518.95 1024.71,521.92 1025.05,516.41 1025.33,522.19 1025.57,516.98 1025.88,521.52 1026.14,515.31 1026.41,521.46 1026.66,517.90 1026.95,521.78 1027.05,519.79 1027.26,511.65 1027.55,506.29 1027.60,510.47 1027.84,509.24 1028.18,522.85 1028.23,520.63 1028.43,517.29 1028.70,524.42 1029.02,518.53 1029.30,524.20 1029.58,519.14 1029.89,524.00 1030.15,520.17 1030.49,523.72 1030.75,520.05 1031.09,526.68 1031.43,520.21 1031.73,525.28 1031.98,520.22 1032.31,525.97 1032.55,521.00 1032.85,525.94 1033.15,521.27 1033.39,525.50 1033.71,522.10 1034.04,525.54 1034.35,522.65 1034.63,526.31 1034.94,522.25 1035.25,527.31 1035.51,521.61 1035.86,528.60 1036.22,522.05 1036.55,528.72 1036.91,523.45 1037.19,529.78 1037.55,523.70 1037.80,529.02 1038.02,526.54 1038.09,523.82 1038.35,528.74 1038.64,523.52 1038.97,529.61 1039.29,523.63 1039.58,529.63 1039.87,522.59 1040.13,529.42 1040.42,524.40 1040.69,528.62 1040.95,524.62 1041.28,527.93 1041.58,524.69 1041.88,528.51 1042.14,524.75 1042.47,531.57 1042.73,524.11 1043.00,528.78 1043.31,523.73 1043.63,529.06 1043.99,523.78 1044.32,528.85 1044.67,524.92 1045.02,528.31 1045.35,524.73 1045.68,528.56 1045.78,526.54 1045.92,520.53 1046.19,518.68 1046.43,506.48 1046.46,508.82 1046.77,520.81 1047.10,522.08 1047.13,526.54 1047.42,529.37 1047.69,523.99 1047.97,528.76 1048.23,523.76 1048.55,528.59 1048.90,524.55 1049.18,528.65 1049.43,523.87 1049.69,528.64 1049.97,523.61 1050.32,529.53 1050.65,523.77 1050.95,529.07 1051.20,523.91 1051.45,529.16 1051.71,524.70 1052.05,528.47 1052.34,524.83 1052.70,528.53 1053.05,524.80 1053.39,528.36 1053.68,522.47 1054.02,529.23 1054.28,523.86 1054.53,529.21 1054.84,523.48 1055.14,529.01 1055.40,524.34 1055.67,528.93 1055.92,524.59 1056.27,528.52 1056.59,524.21 1056.94,529.01 1057.30,523.87 1057.59,529.31 1057.92,523.64 1058.21,529.46 1058.55,523.92 1058.89,529.41 1059.14,523.79 1059.38,528.75 1059.65,524.92 1059.96,528.39 1060.25,524.35 1060.49,528.54 1060.83,523.87 1061.16,529.19 1061.46,523.23 1061.70,528.81 1062.05,523.87 1062.35,528.56 1062.60,524.36 1062.88,528.80 1063.19,524.47 1063.54,528.04 1063.84,525.06 1064.16,528.95 1064.42,524.56 1064.69,528.80 1065.02,526.54 1065.04,521.74 1065.32,531.02 1065.58,522.78 1065.89,528.71 1066.03,525.70 1066.14,519.71 1066.41,517.44 1066.70,503.83 1066.71,506.29 1067.01,516.50 1067.33,520.62 1067.38,524.01 1067.65,528.62 1067.95,521.09 1068.19,526.19 1068.52,520.84 1068.77,526.94 1069.06,520.60 1069.35,527.08 1069.67,520.68 1070.00,525.82 1070.27,520.96 1070.58,525.49 1070.91,521.19 1071.20,524.82 1071.46,521.58 1071.81,524.95 1072.12,520.74 1072.37,525.93 1072.64,519.98 1073.00,525.21 1073.26,520.31 1073.55,525.16 1073.89,520.34 1074.23,524.74 1074.30,522.66 1074.54,520.04 1074.87,522.38 1075.11,516.82 1075.15,518.95 1075.37,522.68 1075.72,519.73 1075.82,522.66 1076.06,525.92 1076.30,519.38 1076.55,525.84 1076.82,519.19 1077.17,525.64 1077.44,519.82 1077.76,525.20 1078.11,520.73 1078.43,525.01 1078.78,520.41 1079.05,527.99 1079.31,520.27 1079.55,525.45 1079.88,520.16 1080.13,527.86 1080.49,520.62 1080.81,527.52 1081.08,520.90 1081.41,525.20 1081.67,521.09 1081.90,523.16 1081.97,524.41 1082.23,521.93 1082.56,524.98 1082.91,521.44 1083.26,525.64 1083.50,520.88 1083.84,525.79 1084.15,520.48 1084.49,526.13 1084.79,520.96 1085.10,525.46 1085.41,521.01 1085.75,525.58 1086.00,521.53 1086.24,526.04 1086.55,520.46 1086.82,526.54 1087.11,520.43 1087.35,526.45 1087.68,520.25 1087.92,526.60 1088.26,520.43 1088.60,525.84 1088.90,521.45 1089.15,526.13 1089.47,521.58 1089.73,525.57 1090.03,520.52 1090.28,525.69 1090.64,521.02 1090.94,526.84 1091.22,521.13 1091.47,526.55 1091.80,521.02 1092.14,525.80 1092.49,522.20 1092.74,525.26 1093.02,520.94 1093.30,525.23 1093.63,522.40 1093.89,526.15 1094.20,521.13 1094.56,526.88 1094.89,519.94 1095.13,527.37 1095.38,519.54 1095.40,524.01 1095.63,522.23 1095.96,508.37 1096.24,506.29 1096.27,508.34 1096.57,504.89 1096.87,509.09 1097.15,505.19 1097.47,510.86 1097.79,503.16 1098.14,512.32 1098.46,505.81 1098.78,509.66 1098.80,512.53 1099.15,506.69 1099.49,512.88 1099.82,507.62 1100.06,511.71 1100.38,508.27 1100.72,512.32 1101.01,508.72 1101.36,512.20 1101.62,507.85 1101.97,513.11 1102.27,507.94 1102.59,514.27 1102.86,508.43 1103.14,513.32 1103.42,508.68 1103.70,512.48 1103.95,509.49 1104.24,513.14 1104.60,509.20 1104.85,511.35 1104.92,511.94 1105.27,498.37 1105.53,495.32 1105.60,500.86 1105.94,502.72 1106.20,512.19 1106.30,515.49 1106.63,509.41 1106.91,515.41 1107.18,510.05 1107.47,514.48 1107.71,509.93 1107.98,515.28 1108.32,509.77 1108.67,514.66 1108.95,510.07 1109.28,515.29 1109.62,509.25 1109.96,515.46 1110.30,509.76 1110.60,515.06 1110.86,509.01 1111.20,514.30 1111.47,511.42 1111.79,514.73 1112.07,511.19 1112.38,514.48 1112.73,510.30 1112.99,515.02 1113.30,510.12 1113.61,515.92 1113.92,510.30 1114.27,514.99 1114.56,510.80 1114.91,514.75 1115.23,510.79 1115.59,514.80 1115.65,513.04 1115.84,511.08 1116.10,515.77 1116.38,507.76 1116.73,516.46 1116.97,508.14 1117.24,516.52 1117.57,509.72 1117.93,516.06 1118.19,510.04 1118.48,514.91 1118.80,510.73 1119.12,515.21 1119.45,510.56 1119.78,515.06 1120.05,509.44 1120.32,515.62 1120.57,509.81 1120.89,516.18 1121.16,510.07 1121.43,515.88 1121.78,510.57 1122.10,514.55 1122.41,511.47 1122.73,514.48 1123.04,511.28 1123.37,514.79 1123.64,510.80 1123.89,515.68 1124.14,510.30 1124.26,513.04 1124.38,513.63 1124.66,501.37 1124.92,501.67 1124.94,498.69 1125.17,501.00 1125.47,512.38 1125.61,513.04 1125.83,510.61 1126.15,515.19 1126.42,511.19 1126.76,515.27 1127.02,510.73 1127.27,516.08 1127.55,510.39 1127.84,516.48 1128.16,509.80 1128.45,517.60 1128.78,510.68 1129.03,515.93 1129.38,510.54 1129.66,515.06 1130.00,511.77 1130.25,515.33 1130.59,511.48 1130.85,515.44 1131.20,510.61 1131.53,516.27 1131.85,510.79 1132.13,516.42 1132.37,511.24 1132.63,516.06 1132.98,511.62 1133.24,515.58 1133.56,512.09 1133.87,515.06 1134.19,511.28 1134.45,515.56 1134.71,509.87 1134.96,517.58 1135.31,510.35 1135.60,516.86 1135.92,508.85 1136.23,516.64 1136.49,511.18 1136.74,516.53 1136.98,511.24 1137.33,517.10 1137.58,511.36 1137.94,516.09 1138.22,511.41 1138.55,516.51 1138.80,510.41 1139.14,517.31 1139.41,510.43 1139.69,516.77 1140.00,511.64 1140.25,516.43 1140.52,511.60 1140.85,517.50 1140.97,513.88 1141.13,512.51 1141.41,515.86 1141.75,512.13 1142.01,516.37 1142.28,512.02 1142.54,516.58 1142.83,511.92 1143.11,517.63 1143.43,512.09 1143.73,516.65 1144.07,512.47 1144.32,516.41 1144.64,512.93 1144.98,516.45 1145.24,512.20 1145.49,517.27 1145.78,512.21 1146.03,514.73 1147.50,523.11 1147.90,260.17 1148.40,335.46 1150.75,333.56 1151.05,524.33 1151.00,525.09 1151.40,211.22 1151.90,337.22 1153.05,339.69 1153.35,525.00 1153.70,526.75 1154.00,523.34 1154.30,526.36 1154.50,523.84 1154.90,268.10 1155.40,347.55 1156.55,349.20 1156.85,525.02 1157.20,527.34 1157.50,523.96 1157.80,527.03 1156.88,524.85 1157.15,527.99 1157.48,521.32 1157.78,528.65 1158.12,520.70 1158.40,528.47 1158.73,520.20 1158.97,527.70 1159.24,521.87 1159.59,526.97 1159.92,522.92 1160.24,527.39 1160.54,522.24 1160.83,527.60 1161.10,521.80 1161.36,528.10 1161.67,522.21 1162.00,527.57 1162.27,521.84 1162.59,527.41 1162.84,522.77 1163.16,528.55 1163.42,522.74 1163.72,527.40 1164.00,520.60 1164.30,527.82 1164.56,522.19 1164.86,527.80 1165.17,521.13 1165.43,528.39 1165.70,521.72 1166.02,528.38 1166.33,521.71 1166.64,527.86 1166.98,522.10 1167.29,527.59 1167.55,521.51 1167.85,528.02 1168.19,521.81 1168.49,528.25 1168.82,521.62 1169.11,528.85 1169.40,521.28 1169.76,527.47 1170.10,522.61 1170.41,526.84 1170.67,522.77 1170.98,527.37 1171.22,519.52 1171.58,526.81 1171.93,522.17 1172.26,527.70 1172.53,521.43 1172.87,528.17 1173.14,522.45 1173.47,527.13 1173.76,524.85 1173.78,523.06 1174.02,527.16 1174.37,522.54 1174.66,527.24 1175.00,522.46 1175.32,527.78 1175.63,521.61 1175.97,528.17 1176.23,520.94 1176.58,528.41 1176.86,520.74 1177.10,528.10 1177.38,521.89 1177.63,527.26 1177.88,521.42 1178.20,526.73 1178.45,521.57 1178.71,526.88 1178.99,519.23 1179.26,527.36 1179.61,520.89 1179.96,527.20 1180.30,518.40 1180.66,526.80 1180.95,522.03 1181.29,525.82 1181.56,522.42 1181.91,525.82 1182.19,524.01 1182.25,521.97 1182.58,526.56 1182.85,520.92 1183.10,526.96 1183.45,520.96 1183.75,527.63 1184.07,521.19 1184.41,529.63 1184.67,521.48 1184.99,526.76 1185.29,521.54 1185.62,526.01 1185.92,521.34 1186.18,526.48 1186.54,521.01 1186.81,527.11 1187.14,519.97 1187.48,528.03 1187.75,519.98 1188.07,526.85 1188.36,520.50 1188.63,527.00 1188.89,521.42 1189.25,525.97 1189.53,521.01 1189.83,526.37 1190.13,521.37 1190.38,527.04 1190.71,520.46 1191.04,527.44 1191.38,520.37 1191.66,526.34 1191.93,521.30 1192.21,525.43 1192.54,521.88 1192.86,525.51 1193.15,521.94 1193.33,523.67 1193.45,518.80 1193.71,500.27 1194.01,485.19 1194.06,491.14 1194.35,501.11 1194.66,526.00 1194.68,523.67 1194.99,519.96 1195.25,529.97 1195.58,520.62 1195.86,526.92 1196.20,521.55 1196.45,527.29 1196.72,520.61 1197.04,526.23 1197.34,520.26 1197.62,527.21 1197.93,520.21 1198.20,527.04 1198.49,520.46 1198.73,527.03 1199.07,520.13 1199.34,526.29 1199.68,521.30 1199.98,525.68 1200.30,521.45 1200.61,526.34 1200.87,521.84 1201.20,526.36 1201.47,520.99 1201.82,526.93 1202.15,520.26 1202.47,526.40 1202.81,521.35 1203.10,529.06 1203.43,521.75 1203.78,526.16 1204.04,521.61 1204.29,526.39 1204.58,521.39 1204.88,527.14 1205.14,520.90 1205.41,527.82 1205.75,520.64 1206.04,527.34 1206.30,520.11 1206.50,524.01 1206.56,525.71 1206.87,508.78 1207.13,506.41 1207.17,502.07 1207.43,507.64 1207.73,523.12 1207.85,524.01 1208.03,521.74 1208.33,526.83 1208.67,520.81 1208.91,527.33 1209.26,520.66 1209.52,529.60 1209.77,520.78 1210.10,527.33 1210.41,519.01 1210.71,526.94 1210.98,522.15 1211.31,525.61 1211.59,521.95 1211.92,526.06 1212.19,521.56 1212.49,526.83 1212.81,520.94 1213.10,527.82 1213.39,521.00 1213.64,527.63 1213.96,519.41 1214.28,526.49 1214.54,521.77 1214.85,527.06 1215.17,521.92 1215.43,527.00 1215.77,521.80 1216.11,527.98 1216.36,521.14 1216.63,528.34 1216.88,520.64 1217.15,528.00 1217.40,520.99 1217.70,528.35 1217.97,521.36 1218.24,527.19 1218.54,521.90 1218.82,526.50 1219.16,522.04 1219.48,527.10 1219.74,521.29 1220.00,527.49 1220.25,521.62 1220.53,527.60 1220.78,521.50 1221.10,527.32 1221.44,522.48 1221.80,526.74 1222.06,522.51 1222.30,526.56 1222.64,522.61 1222.92,526.77 1223.28,522.60 1223.56,527.66 1223.84,521.81 1224.09,527.79 1224.39,524.85 1224.44,521.56 1224.75,528.18 1225.04,522.04 1225.33,527.64 1225.66,519.87 1226.00,528.88 1226.30,522.69 1226.56,527.75 1226.85,522.24 1227.20,528.17 1227.43,525.02 1227.49,519.70 1227.80,520.45 1228.10,509.66 1228.11,505.94 1228.41,519.93 1228.72,520.92 1228.78,525.36 1228.99,528.63 1229.29,522.87 1229.64,528.11 1229.89,520.48 1230.17,527.29 1230.52,523.37 1230.87,527.91 1231.11,522.66 1231.14,525.36 1231.43,528.08 1231.75,521.60 1232.09,528.32 1232.38,522.60 1232.64,530.17 1232.92,522.93 1233.24,526.83 1233.57,523.13 1233.83,527.01 1234.15,522.28 1234.47,527.86 1234.79,521.67 1235.03,528.02 1235.32,520.72 1235.60,528.49 1235.91,521.25 1236.19,527.07 1236.45,521.52 1236.77,527.21 1237.04,521.66 1237.38,526.82 1237.66,521.01 1237.96,526.77 1238.30,520.34 1238.55,526.88 1238.88,520.14 1239.13,527.13 1239.48,520.10 1239.72,526.94 1240.05,520.90 1240.33,526.09 1240.60,520.95 1240.88,525.48 1241.18,521.64 1241.27,523.16 1241.47,524.77 1241.73,520.82 1242.03,525.56 1242.31,519.61 1242.66,526.05 1242.95,519.54 1243.24,525.67 1243.51,519.58 1243.87,524.27 1244.14,519.75 1244.46,523.92 1244.80,519.45 1245.09,524.55 1245.42,518.39 1245.69,525.03 1245.95,517.68 1246.19,524.72 1246.48,516.89 1246.83,524.29 1247.09,514.23 1247.39,524.00 1247.72,517.66 1247.99,523.17 1248.25,517.43 1248.55,522.37 1248.84,517.36 1249.20,523.09 1249.54,515.70 1249.70,519.79 1249.81,523.36 1250.12,516.17 1250.41,522.34 1250.65,515.84 1250.95,521.79 1251.30,516.93 1251.57,521.17 1251.88,517.06 1252.21,520.38 1252.46,516.55 1252.81,520.79 1253.06,515.37 1253.34,520.99 1253.66,515.06 1253.90,521.26 1254.19,513.86 1254.44,520.44 1254.74,513.98 1254.98,520.41 1255.24,514.93 1255.51,518.91 1255.76,514.47 1256.01,519.18 1256.27,513.26 1256.57,519.58 1256.83,512.97 1257.17,519.66 1257.46,511.56 1257.73,519.96 1258.00,512.37 1258.14,515.57 1258.34,518.45 1258.58,512.04 1258.91,518.55 1259.17,511.89 1259.52,517.20 1259.81,513.32 1260.12,517.93 1260.46,512.75 1260.72,518.50 1260.96,512.19 1261.29,520.08 1261.60,512.07 1261.92,518.31 1262.20,512.34 1262.50,517.28 1262.76,513.38 1263.05,517.48 1263.32,513.58 1263.64,517.11 1263.91,512.82 1264.18,517.74 1264.50,511.80 1264.75,518.09 1265.09,511.16 1265.39,517.93 1265.65,511.23 1265.91,518.37 1266.21,512.04 1266.51,517.43 1266.84,509.54 1267.12,517.12 1267.41,511.88 1267.76,518.31 1268.03,510.69 1268.39,520.37 1268.74,510.36 1269.09,517.78 1269.45,511.69 1269.72,517.23 1270.06,511.68 1270.37,516.58 1270.63,512.71 1270.99,516.92 1271.31,511.91 1271.65,514.22 1271.65,517.43 1271.96,510.86 1272.20,516.73 1272.55,509.88 1272.81,516.27 1273.08,509.82 1273.39,514.45 1273.66,510.24 1273.95,513.89 1274.28,508.73 1274.53,513.04 1274.85,507.94 1275.02,510.51 1275.10,513.04 1275.40,507.23 1275.72,514.51 1276.04,507.15 1276.28,517.47 1276.55,508.02 1276.90,514.89 1277.05,512.19 1277.19,511.61 1277.48,521.94 1277.55,519.79 1277.77,514.46 1278.06,512.19 1278.09,514.33 1278.42,509.50 1278.74,514.87 1279.02,508.87 1279.33,515.30 1279.63,508.67 1279.90,514.98 1280.25,508.63 1280.61,514.91 1280.94,509.24 1281.30,513.50 1281.60,509.71 1281.94,513.51 1282.20,509.22 1282.53,513.96 1282.86,508.61 1283.21,515.01 1283.55,508.02 1283.63,511.35 1283.90,509.86 1284.17,499.32 1284.30,500.38 1284.50,506.54 1284.80,506.09 1284.98,511.35 1285.08,513.66 1285.36,508.51 1285.70,513.75 1286.04,508.68 1286.38,514.58 1286.70,507.29 1286.96,516.29 1287.22,507.70 1287.53,514.31 1287.79,507.42 1288.08,514.51 1288.33,507.67 1288.59,513.63 1288.91,508.81 1289.18,512.69 1289.52,508.57 1289.54,510.84 1289.80,508.34 1290.14,492.31 1290.21,493.63 1290.42,501.55 1290.69,502.50 1290.89,510.51 1290.98,513.60 1291.22,506.97 1291.51,513.68 1291.80,507.88 1292.04,512.19 1292.38,508.42 1292.67,512.17 1292.91,508.13 1293.26,512.25 1293.53,505.21 1293.80,513.85 1294.04,507.82 1294.29,513.52 1294.62,506.65 1294.93,514.28 1295.23,507.74 1295.50,513.90 1295.77,507.69 1296.13,513.48 1296.42,505.22 1296.77,513.16 1297.12,507.13 1297.38,514.34 1297.72,506.43 1297.96,513.84 1298.29,507.02 1298.62,513.90 1298.95,507.77 1299.25,512.91 1299.59,508.13 1299.85,512.69 1300.15,508.63 1300.42,512.86 1300.71,507.82 1300.98,513.39 1301.30,507.60 1301.61,513.62 1301.94,507.81 1302.03,510.51 1302.26,515.56 1302.57,507.62 1302.92,512.87 1303.26,508.31 1303.57,512.65 1303.85,509.00 1304.20,513.00 1304.48,508.33 1304.73,513.83 1305.01,506.34 1305.34,515.03 1305.69,507.22 1306.01,515.34 1306.33,507.84 1306.68,514.24 1307.01,508.67 1307.31,514.03 1307.60,509.15 1307.93,514.21 1308.21,509.62 1308.46,515.17 1308.78,512.19 1308.78,509.29 1309.12,515.55 1309.39,508.89 1309.71,518.10 1310.05,509.30 1310.31,514.55 1310.57,509.88 1310.87,514.28 1311.15,510.40 1311.50,514.68 1311.86,510.97 1312.15,515.55 1312.49,509.89 1312.80,517.02 1313.06,509.49 1313.42,516.67 1313.68,509.95 1313.93,515.80 1314.22,510.41 1314.47,516.03 1314.76,510.64 1315.05,515.93 1315.41,511.09 1315.70,516.22 1316.04,510.50 1316.37,517.27 1316.68,509.74 1316.95,518.04 1317.23,510.54 1317.53,516.92 1317.82,511.39 1318.13,516.55 1318.43,511.52 1318.71,516.29 1319.03,510.55 1319.39,517.16 1319.65,511.81 1319.93,517.35 1320.17,511.16 1320.42,518.26 1320.67,511.49 1320.96,517.89 1321.30,511.90 1321.62,517.14 1321.98,512.47 1322.32,517.01 1322.63,512.89 1322.94,517.06 1323.18,512.76 1323.47,518.09 1323.74,511.73 1324.05,519.19 1324.30,511.54 1324.61,518.86 1324.89,511.84 1325.19,520.08 1325.48,512.86 1325.65,515.57 1325.73,517.73 1326.06,513.61 1326.40,518.57 1326.71,512.89 1326.96,519.32 1327.27,513.04 1327.62,520.65 1327.98,512.84 1328.31,520.36 1328.55,511.92 1328.90,519.28 1329.22,514.64 1329.49,519.73 1329.84,514.96 1330.18,519.74 1330.53,514.53 1330.80,519.88 1331.11,514.59 1331.39,520.46 1331.67,514.92 1332.00,520.67 1332.24,518.10 1332.31,513.35 1332.59,510.13 1332.90,496.43 1332.91,497.85 1333.25,511.72 1333.56,517.88 1333.59,520.63 1333.91,523.69 1334.21,519.73 1334.57,527.61 1334.82,520.98 1335.11,529.93 1335.42,522.87 1335.75,531.38 1335.78,528.23 1336.10,523.77 1336.42,531.60 1336.71,525.28 1337.03,530.96 1337.33,526.16 1337.66,531.79 1338.01,525.28 1338.25,532.34 1338.53,522.20 1338.88,531.89 1339.13,525.52 1339.46,531.96 1339.70,525.87 1340.02,531.44 1340.36,526.90 1340.63,531.23 1340.91,524.71 1341.18,530.89 1341.50,526.37 1341.81,531.25 1342.12,525.59 1342.40,532.12 1342.53,529.07 1342.71,526.03 1343.06,532.60 1343.40,526.91 1343.75,531.52 1344.02,527.84 1344.32,531.95 1344.61,527.91 1344.89,533.46 1345.23,527.69 1345.49,534.08 1345.80,524.60 1346.13,534.46 1346.48,526.79 1346.72,534.35 1347.00,527.27 1347.29,535.25 1347.65,528.32 1347.91,534.35 1348.25,529.37 1348.53,534.40 1348.84,528.42 1349.19,534.51 1349.44,529.09 1349.72,535.55 1349.98,526.46 1350.23,535.26 1350.51,529.03 1350.83,535.43 1351.14,530.37 1351.40,534.24 1351.73,530.96 1352.04,534.92 1352.29,531.38 1352.63,535.25 1352.66,533.29 1352.97,530.72 1353.24,536.43 1353.59,529.44 1353.93,536.33 1354.19,529.64 1354.43,536.22 1354.78,529.95 1355.12,535.41 1355.37,530.92 1355.70,537.92 1356.03,530.57 1356.35,536.65 1356.69,529.49 1357.05,536.70 1357.33,529.22 1357.67,537.15 1358.02,529.84 1358.29,536.52 1358.62,529.97 1358.94,535.00 1359.28,531.35 1359.59,535.52 1359.86,530.67 1360.13,535.36 1360.44,529.80 1360.69,536.21 1361.04,530.14 1361.38,535.54 1361.65,530.11 1361.98,535.51 1362.30,530.85 1362.55,534.71 1362.88,530.59 1363.22,534.48 1363.49,530.91 1363.75,535.58 1364.02,529.46 1364.35,538.20 1364.65,529.20 1364.99,538.36 1365.24,529.01 1365.50,535.71 1365.78,529.38 1366.13,535.26 1366.38,529.76 1366.63,535.58 1366.96,530.52 1367.21,536.04 1367.53,529.94 1367.78,537.56 1367.85,532.78 1368.05,529.10 1368.37,536.66 1368.72,529.70 1369.01,535.84 1369.30,530.35 1369.55,535.05 1369.83,530.53 1370.10,535.30 1370.43,530.65 1370.76,535.57 1371.09,531.12 1371.39,535.42 1371.72,530.10 1371.97,536.22 1372.26,529.86 1372.53,536.16 1372.81,530.46 1373.14,535.47 1373.40,530.96 1373.68,534.98 1373.96,530.67 1374.30,535.92 1374.62,531.14 1374.91,536.78 1375.20,530.48 1375.55,537.27 1375.90,529.44 1376.20,536.91 1376.50,530.38 1376.85,537.05 1377.12,530.68 1377.39,536.22 1377.64,529.35 1377.94,535.70 1378.27,530.49 1378.53,536.27 1378.83,530.73 1379.18,537.30 1379.48,530.05 1379.77,537.46 1380.00,533.80 1380.11,530.51 1380.46,536.10 1380.74,531.65 1381.00,536.11 1381.31,531.88 1381.64,537.63 1381.99,531.31 1382.31,536.13 1382.59,531.07 1382.89,536.54 1383.16,529.89 1383.46,536.59 1383.75,530.79 1384.10,535.94 1384.45,530.40 1384.80,535.72 1385.10,527.94 1385.46,539.22 1385.71,530.36 1386.06,536.57 1386.38,529.67 1386.72,537.59 1387.01,529.91 1387.37,537.10 1387.62,530.25 1387.96,536.65 1388.30,530.60 1388.58,535.25 1388.92,531.30 1389.19,535.75 1389.52,530.24 1389.81,536.27 1390.10,529.53 1390.37,536.29 1390.70,529.51 1391.00,533.00 1391.90,532.58 1392.30,275.36 1392.80,353.11 1393.69,353.20 1393.99,532.10 1394.34,534.98 1394.64,531.64 1394.94,535.24 1395.24,531.93 1395.61,534.10 1396.01,254.26 1396.51,352.36 1396.74,350.70 1397.04,533.35 1397.39,534.49 1397.69,530.93 1397.99,534.67 1398.29,531.21 1398.59,534.55 1398.98,533.10 1399.38,278.73 1399.88,349.21 1400.67,352.40 1400.97,533.05 1401.32,534.18 1401.62,531.82 1401.92,534.63 1402.22,531.00 1402.52,534.54 1402.70,534.10 1403.10,273.67 1403.60,349.32 1403.78,350.96 1404.08,534.14 1404.43,534.81 1404.73,531.82 1405.03,534.33 1405.33,531.47 1405.63,534.94 1405.74,533.16 1406.14,277.05 1406.64,351.91 1407.49,352.42 1407.79,533.55 1408.14,535.19 1408.44,531.76 1408.74,534.17 1409.11,532.88 1409.51,220.51 1410.01,352.24 1411.43,354.34 1411.73,532.56 1412.08,534.46" fill="none" stroke="#4269d0" stroke-width="2.15" stroke-linejoin="bevel" stroke-linecap="butt"/>
<circle cx="661.9" cy="610.8" r="9.8" fill="#4269d0"/>
<text x="678.3" y="616.2" style="font-size:15px;letter-spacing:-0.166px;fill:#212121">Gasheizung</text>
</svg>
</body></html>
